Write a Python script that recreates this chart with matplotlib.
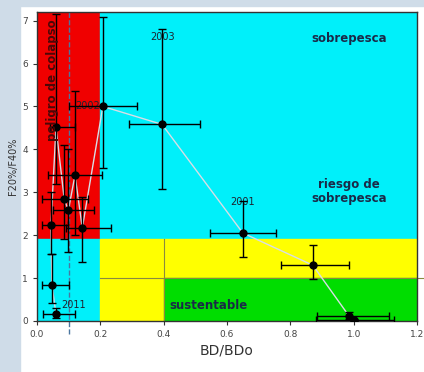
import matplotlib
matplotlib.use("Agg")
import matplotlib.pyplot as plt
from matplotlib.patches import Rectangle

# BD/BDo vs F20%/F40% with error ranges
bd = [1.00, 0.985, 0.871, 0.65, 0.395, 0.208, 0.143, 0.12, 0.099, 0.086, 0.06, 0.044, 0.047, 0.06]
ff = [0.02, 0.12, 1.30, 2.05, 4.58, 5.00, 2.17, 3.40, 2.58, 2.84, 4.51, 2.23, 0.84, 0.16]
bd_lo = [0.88, 0.884, 0.77, 0.546, 0.29, 0.10, 0.09, 0.035, 0.05, 0.015, 0.04, 0.015, 0.015, 0.02]
bd_hi = [1.127, 1.11, 0.985, 0.755, 0.515, 0.316, 0.234, 0.205, 0.18, 0.162, 0.12, 0.099, 0.10, 0.12]
ff_lo = [0.0, 0.05, 0.98, 1.49, 3.07, 3.56, 1.38, 2.0, 1.6, 1.9, 3.2, 1.56, 0.42, 0.08]
ff_hi = [0.05, 0.2, 1.77, 2.80, 6.81, 7.09, 2.9, 5.37, 4.0, 4.1, 7.16, 3.0, 1.56, 0.3]

year_labels = ["2003", "2001", "2002", "2011"]
year_pos = [(0.395, 6.62), (0.65, 2.78), (0.2, 5.0), (0.115, 0.38)]

fig = plt.figure(figsize=(4.24, 3.72), dpi=100)
fig.patch.set_facecolor("white")
fig.patches.append(Rectangle((0, 0), 20 / 424, 1, transform=fig.transFigure, color="#cfdce8", zorder=-5))
fig.patches.append(Rectangle((0, 1 - 6 / 372), 1, 6 / 372, transform=fig.transFigure, color="#cfdce8", zorder=-5))

ax = fig.add_axes([37 / 424, 1 - 321 / 372, 380 / 424, 309 / 372])
ax.set_xlim(0, 1.2)
ax.set_ylim(0, 7.2)

# zones
ax.add_patch(Rectangle((0, 1.9), 0.2, 5.3, color="#f00000", zorder=0))
ax.add_patch(Rectangle((0.2, 1.9), 1.0, 5.3, color="#00f0fa", zorder=0))
ax.add_patch(Rectangle((0, 0), 0.2, 1.9, color="#00f0fa", zorder=0))
ax.add_patch(Rectangle((0.2, 0), 1.0, 1.9, color="#ffff00", zorder=0))
ax.add_patch(Rectangle((0.4, 0), 0.8, 1.0, color="#00dd00", zorder=0))
ax.plot([0.2, 1.23], [1.0, 1.0], color="#8a8a40", lw=0.8, clip_on=False, zorder=1)
ax.plot([0.4, 0.4], [0, 1.9], color="#8a8a40", lw=0.8, zorder=1)
ax.plot([0.1, 0.1], [-0.3, 7.2], color="#4a76a0", lw=1, ls="--", clip_on=False, zorder=1)

ax.plot(bd, ff, color="#d8dee6", lw=1, zorder=2)
xerr = [[b - lo for b, lo in zip(bd, bd_lo)], [hi - b for b, hi in zip(bd, bd_hi)]]
yerr = [[f - lo for f, lo in zip(ff, ff_lo)], [hi - f for f, hi in zip(ff, ff_hi)]]
ax.errorbar(bd, ff, xerr=xerr, yerr=yerr, fmt="o", color="black", ms=5,
            elinewidth=1, capsize=3, capthick=1, zorder=3)

for lab, (x, y) in zip(year_labels, year_pos):
    ha = "right" if lab == "2002" else "center"
    ax.text(x, y, lab, fontsize=7, color="#1e2430", ha=ha, va="center", zorder=2)

ax.text(0.985, 6.58, "sobrepesca", fontsize=8.5, fontweight="bold", color="#1a2a48", ha="center", va="center")
ax.text(0.985, 3.02, "riesgo de\nsobrepesca", fontsize=8.5, fontweight="bold", color="#1a2a48",
        ha="center", va="center", linespacing=1.1)
ax.text(0.54, 0.35, "sustentable", fontsize=8.5, fontweight="bold", color="#1a2a48", ha="center", va="center")
ax.text(0.05, 5.6, "peligro de colapso", fontsize=8.5, fontweight="bold", color="#4a0808", rotation=90,
        ha="center", va="center", zorder=4)

ax.set_xticks([0, 0.2, 0.4, 0.6, 0.8, 1.0, 1.2])
ax.set_xticklabels(["0.0", "0.2", "0.4", "0.6", "0.8", "1.0", "1.2"])
ax.set_yticks(range(8))
ax.tick_params(labelsize=6.5, labelcolor="#444444", length=3, color="#333333")
for s in ax.spines.values():
    s.set_color("#333333")
    s.set_linewidth(1)
ax.set_xlabel("BD/BDo", fontsize=10, color="#333333", labelpad=3)
ax.set_ylabel("F20%/F40%", fontsize=7, color="#333333", labelpad=3)

fig.savefig("out.png", dpi=100)
